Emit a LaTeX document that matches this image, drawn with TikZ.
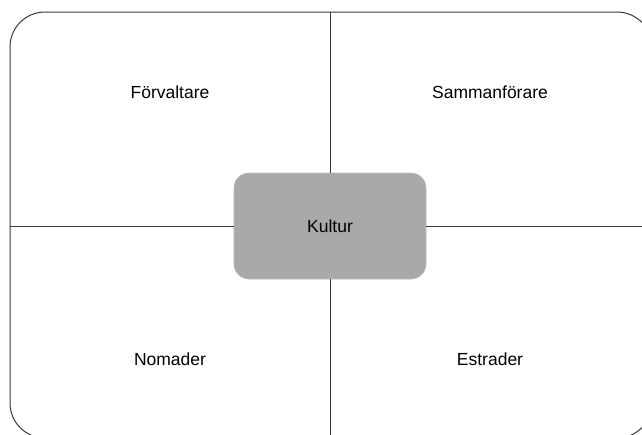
\documentclass[tikz,border=0pt]{standalone}
\usepackage{fontspec}
\setmainfont{Liberation Sans}
\definecolor{linegray}{HTML}{3A3A3A}
\definecolor{boxgray}{HTML}{A9A9A9}
\begin{document}
\begin{tikzpicture}[x=1pt,y=-1pt,
  frame/.style={draw=linegray,line width=1pt,rounded corners=35pt,inner sep=0pt,minimum width=642pt,minimum height=426pt},
  core/.style={fill=boxgray,draw=boxgray!80!white,line width=0.6pt,rounded corners=15pt,minimum width=192pt,minimum height=106pt,inner sep=0pt,font=\fontsize{17.5}{20}\selectfont},
  lbl/.style={font=\fontsize{17.5}{20}\selectfont,inner sep=0pt},
  divider/.style={draw=linegray,line width=1pt}]
\useasboundingbox (0,0) rectangle (642,434);
\clip (0,0) rectangle (642,434);
\node[frame] (outer) at (331,225) {};
\node[core] (kultur) at (330,226) {Kultur};
\draw[divider] (kultur.north) -- (kultur.north |- outer.north);
\draw[divider] (kultur.south) -- (kultur.south |- outer.south);
\draw[divider] (kultur.west) -- (kultur.west -| outer.west);
\draw[divider] (kultur.east) -- (kultur.east -| outer.east);
\node[lbl] (forv) at (170,92) {Förvaltare};
\node[lbl] (samm) at (490,92) {Sammanförare};
\node[lbl] (noma) at (170,359) {Nomader};
\node[lbl] (estr) at (490,359) {Estrader};
\end{tikzpicture}
\end{document}
